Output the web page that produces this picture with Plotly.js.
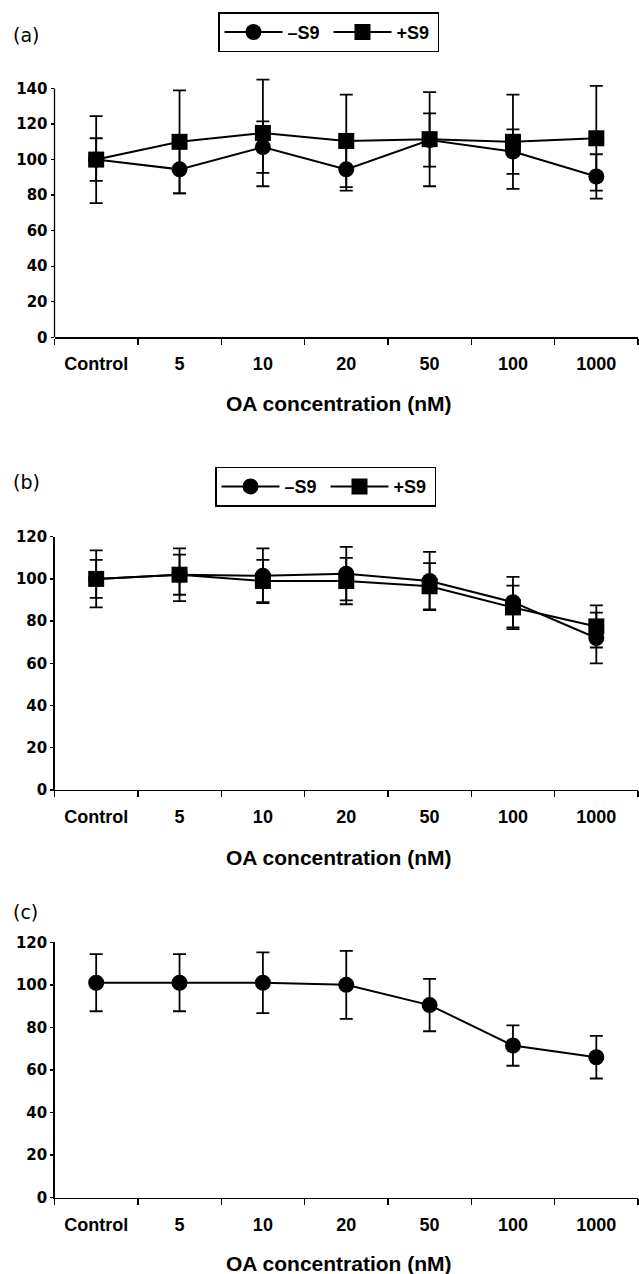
<!DOCTYPE html>
<html><head><meta charset="utf-8">
<script src="https://cdn.plot.ly/plotly-3.0.1.min.js"></script>
<style>html,body{margin:0;padding:0;background:#fff}</style>
</head><body><div id="chart" style="width:639px;height:1274px"></div>
<script>
const categories = ["Control", "5", "10", "20", "50", "100", "1000"];
// Panel (a)
const a_minusS9 = [100, 94.5, 107, 94.5, 111, 104.5, 90.5];
const a_minusS9_err = [12, 13.5, 14.5, 12, 15, 12.5, 12.5];
const a_plusS9 = [100, 110, 115, 110.5, 111.5, 110, 112];
const a_plusS9_err = [24.5, 29, 30, 26, 26.5, 26.5, 29.5];
// Panel (b)
const b_minusS9 = [100, 102, 101.5, 102.5, 99, 89, 72];
const b_minusS9_err = [9, 9.5, 13, 12.7, 13.8, 12, 12];
const b_plusS9 = [100, 102, 99, 99, 96.5, 86.5, 77.5];
const b_plusS9_err = [13.5, 12.5, 10, 11, 11, 10.3, 10];
// Panel (c)
const c_minusS9 = [101, 101, 101, 100, 90.5, 71.5, 66];
const c_minusS9_err = [13.4, 13.4, 14.3, 16, 12.3, 9.5, 10];

const seriesNames = ["\u2013S9", "+S9"];
const panelLabels = ["(a)", "(b)", "(c)"];
const xTitle = "OA concentration (nM)";

const W = 639, H = 1274;
const BLACK = "#000";

function trace(y, err, symbol, name, xa, ya, legend, showlegend) {
  return {
    type: "scatter", mode: "lines+markers", x: categories, y: y, name: name,
    xaxis: xa, yaxis: ya, legend: legend, showlegend: showlegend, cliponaxis: false,
    line: {color: BLACK, width: 2},
    marker: {symbol: symbol, size: 16, color: BLACK},
    error_y: {type: "data", array: err, visible: true, color: BLACK, thickness: 1.8, width: 6.5}
  };
}

const data = [
  trace(a_minusS9, a_minusS9_err, "circle", seriesNames[0], "x", "y", "legend", true),
  trace(a_plusS9, a_plusS9_err, "square", seriesNames[1], "x", "y", "legend", true),
  trace(b_minusS9, b_minusS9_err, "circle", seriesNames[0], "x2", "y2", "legend2", true),
  trace(b_plusS9, b_plusS9_err, "square", seriesNames[1], "x2", "y2", "legend2", true),
  trace(c_minusS9, c_minusS9_err, "circle", seriesNames[0], "x3", "y3", "legend", false)
];

const xDomain = [54.5 / W, 638 / W];
function xaxis(anchor) {
  return {
    domain: xDomain, anchor: anchor, type: "category", range: [-0.5, 6.5],
    tickson: "boundaries", ticks: "outside", ticklen: 6, tickwidth: 1.3, tickcolor: BLACK,
    ticklabelstandoff: 10,
    showline: true, linecolor: BLACK, linewidth: 1.3, showgrid: false, zeroline: false,
    tickfont: {family: "Liberation Sans, Arial, sans-serif", size: 18, weight: "bold", color: BLACK},
    fixedrange: true
  };
}
// axisTop: last labelled value; rangeTop: extra head room so long error bars are not cut
function yaxis(anchor, axisTop, rangeTop, bottomPx, topPx, showline) {
  const pxPerUnit = (bottomPx - topPx) / axisTop;
  const domTopPx = bottomPx - rangeTop * pxPerUnit;
  return {
    domain: [1 - bottomPx / H, 1 - domTopPx / H], anchor: anchor, range: [0, rangeTop], dtick: 20,
    ticks: "outside", ticklen: 3, tickwidth: 1.3, tickcolor: BLACK,
    showline: showline, linecolor: BLACK, linewidth: 1.3, showgrid: false, zeroline: false,
    tickfont: {family: "DejaVu Sans, sans-serif", size: 15, weight: "bold", color: BLACK},
    fixedrange: true
  };
}
function legend(leftPx, topPx) {
  return {
    x: leftPx / W, xanchor: "left", y: 1 - topPx / H, yanchor: "top",
    orientation: "h", bordercolor: BLACK, borderwidth: 1.5, bgcolor: "#fff",
    itemwidth: 58, entrywidth: 36, entrywidthmode: "pixels",
    itemclick: false, itemdoubleclick: false,
    font: {family: "Liberation Sans, Arial, sans-serif", size: 18, weight: "bold", color: BLACK}
  };
}

const annotations = [];
const labelY = [35, 482, 912];
const titleY = [403, 857, 1263];
for (let i = 0; i < 3; i++) {
  annotations.push({
    text: panelLabels[i], xref: "paper", yref: "paper", x: 11 / W, y: 1 - labelY[i] / H,
    xanchor: "left", yanchor: "middle", showarrow: false,
    font: {family: "DejaVu Sans, sans-serif", size: 19, color: BLACK}
  });
  annotations.push({
    text: xTitle, xref: "paper", yref: "paper", x: 339 / W, y: 1 - titleY[i] / H,
    xanchor: "center", yanchor: "middle", showarrow: false,
    font: {family: "Liberation Sans, Arial, sans-serif", size: 21, weight: "bold", color: BLACK}
  });
}

const A_TOP = 140;
const layout = {
  width: W, height: H, margin: {l: 0, r: 0, t: 0, b: 0},
  paper_bgcolor: "#fff", plot_bgcolor: "#fff",
  xaxis: xaxis("y"), yaxis: yaxis("x", A_TOP, 147, 337.3, 88.5, false),
  xaxis2: xaxis("y2"), yaxis2: yaxis("x2", 120, 120, 790, 536.7, true),
  xaxis3: xaxis("y3"), yaxis3: yaxis("x3", 120, 120, 1197.7, 942.3, true),
  legend: legend(218, 12.3),
  legend2: legend(215, 466.7),
  annotations: annotations,
  shapes: [{type: "line", xref: "x domain", yref: "y", x0: 0, x1: 0, y0: 0, y1: A_TOP,
            line: {color: BLACK, width: 1.3}}],
  showlegend: true
};

Plotly.newPlot("chart", data, layout, {displayModeBar: false, staticPlot: true});
</script></body></html>
